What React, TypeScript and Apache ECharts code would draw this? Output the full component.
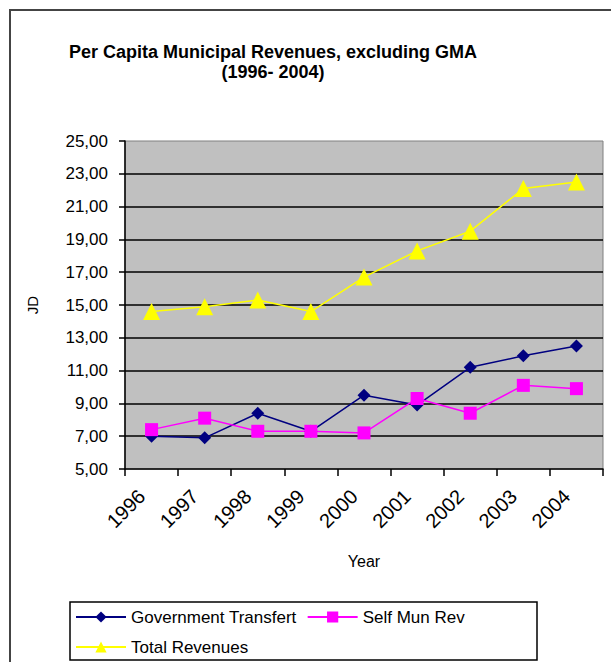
import React, { useEffect, useRef } from "react";
import * as echarts from "echarts";

const years = ["1996", "1997", "1998", "1999", "2000", "2001", "2002", "2003", "2004"];
const governmentTransfert = [7.0, 6.9, 8.4, 7.3, 9.5, 8.9, 11.2, 11.9, 12.5];
const selfMunRev = [7.4, 8.1, 7.3, 7.3, 7.2, 9.3, 8.4, 10.1, 9.9];
const totalRevenues = [14.6, 14.9, 15.3, 14.6, 16.7, 18.3, 19.5, 22.1, 22.5];
const titleLines = ["Per Capita Municipal Revenues, excluding GMA", "(1996- 2004)"];

const FONT = "Liberation Sans, Arial, sans-serif";

export default function App() {
  const ref = useRef<HTMLDivElement>(null);
  useEffect(() => {
    if (!ref.current) return;
    const chart = echarts.init(ref.current, null, { renderer: "svg" });
    chart.setOption({
      animation: false,
      backgroundColor: "#ffffff",
      textStyle: { fontFamily: FONT },
      graphic: [
        {
          type: "rect",
          shape: { x: 10, y: 10, width: 640, height: 700 },
          style: { fill: "none", stroke: "#444444", lineWidth: 2 },
          silent: true,
        },
        {
          type: "text",
          x: 273,
          y: 52,
          style: {
            text: titleLines[0],
            fontFamily: FONT,
            fontWeight: "bold",
            fontSize: 18,
            fill: "#000",
            textAlign: "center",
            textVerticalAlign: "middle",
          },
        },
        {
          type: "text",
          x: 273,
          y: 72,
          style: {
            text: titleLines[1],
            fontFamily: FONT,
            fontWeight: "bold",
            fontSize: 18,
            fill: "#000",
            textAlign: "center",
            textVerticalAlign: "middle",
          },
        },
        {
          type: "rect",
          shape: { x: 70, y: 602, width: 467, height: 58 },
          style: { fill: "none", stroke: "#000", lineWidth: 1.5 },
          silent: true,
        },
      ],
      legend: {
        left: 70,
        top: 607,
        width: 420,
        itemWidth: 50,
        itemHeight: 14,
        itemGap: 10,
        padding: [0, 5],
        textStyle: { fontFamily: FONT, fontSize: 17, lineHeight: 20, color: "#000" },
        data: ["Government Transfert", "Self Mun Rev", "Total Revenues"],
      },
      grid: {
        left: 125,
        right: 8,
        top: 141,
        bottom: 193,
        show: true,
        backgroundColor: "#c0c0c0",
        borderColor: "#808080",
        borderWidth: 1,
      },
      xAxis: {
        type: "category",
        data: years,
        boundaryGap: true,
        name: "Year",
        nameLocation: "middle",
        nameGap: 84,
        nameTextStyle: { fontFamily: FONT, fontSize: 16, color: "#000" },
        axisLine: { lineStyle: { color: "#000", width: 1.5 } },
        axisTick: { show: true, length: 7, lineStyle: { color: "#000", width: 1.5 } },
        axisLabel: {
          rotate: 45,
          margin: 14,
          padding: [0, 14, 0, 0],
          interval: 0,
          fontFamily: FONT,
          fontSize: 20,
          color: "#000",
        },
        splitLine: { show: false },
      },
      yAxis: {
        type: "value",
        min: 5,
        max: 25,
        interval: 2,
        name: "JD",
        nameLocation: "middle",
        nameGap: 85,
        nameTextStyle: { fontFamily: FONT, fontSize: 15, color: "#000" },
        axisLine: { show: true, lineStyle: { color: "#000", width: 1.5 } },
        axisTick: { show: true, length: 6, lineStyle: { color: "#000", width: 1.5 } },
        axisLabel: {
          margin: 17,
          fontFamily: FONT,
          fontSize: 17,
          color: "#000",
          formatter: (v: number) => v.toFixed(2).replace(".", ","),
        },
        splitLine: {
          show: true,
          showMaxLine: false,
          showMinLine: false,
          lineStyle: { color: "#000", width: 1.5 },
        },
      },
      series: [
        {
          name: "Government Transfert",
          type: "line",
          data: governmentTransfert,
          symbol: "diamond",
          symbolSize: 13,
          itemStyle: { color: "#000080" },
          lineStyle: { color: "#000080", width: 1.5 },
        },
        {
          name: "Self Mun Rev",
          type: "line",
          data: selfMunRev,
          symbol: "rect",
          symbolSize: 13,
          itemStyle: { color: "#ff00ff" },
          lineStyle: { color: "#ff00ff", width: 1.5 },
        },
        {
          name: "Total Revenues",
          type: "line",
          data: totalRevenues,
          symbol: "triangle",
          symbolSize: 17,
          itemStyle: { color: "#ffff00" },
          lineStyle: { color: "#ffff00", width: 1.5 },
        },
      ],
    });
    return () => chart.dispose();
  }, []);
  return (
    <div
      ref={ref}
      style={{ position: "absolute", left: 0, top: 0, width: 611, height: 662 }}
    />
  );
}
